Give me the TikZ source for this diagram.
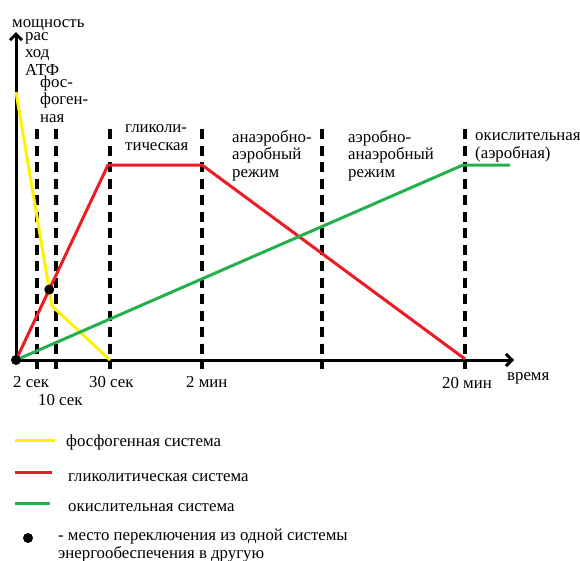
\documentclass[tikz,border=0pt]{standalone}
\usepackage{fontspec}
\setmainfont{Liberation Serif}
\usetikzlibrary{arrows.meta,intersections}
\definecolor{phosyellow}{RGB}{255,242,0}
\definecolor{glycred}{RGB}{237,28,36}
\definecolor{oxgreen}{RGB}{34,177,76}

\begin{document}
\begin{tikzpicture}[x=1pt,y=-1pt,
        axis/.style={line width=3pt,-{Straight Barb[length=6pt,width=12pt]}},
        border/.style={line width=3.4pt,dash pattern=on 10pt off 6.5pt},
        curve/.style={line width=3pt,line join=round},
        switch/.style={circle,fill=black,inner sep=0pt,minimum size=10pt},
        lbl/.style={font=\fontsize{16.8}{17.4}\selectfont,inner sep=0pt,align=left,anchor=base west}]
        \useasboundingbox (0,0) rectangle (580,560);
        \clip (0,0) rectangle (580,560);
        % borders between phases
        \foreach \n/\x in {a/37,b/56,c/110,d/202,e/322,f/465}
            \draw[border] (\x,129) coordinate (\n top) -- (\x,369) coordinate (\n bot);
        % axes
        \coordinate (O) at (16,360);
        \coordinate (ytip) at (16,32);
        \coordinate (xtip) at (514,360);
        \draw[axis] (O) -- (ytip);
        \draw[axis] (O) -- (xtip);
        % systems
        \coordinate (y1) at (16,92);
        \coordinate (y2) at (52,306);
        \coordinate (y3) at (110,360);
        \coordinate (r1) at (108,165);
        \coordinate (r2) at (202,165);
        \coordinate (r3) at (465,359);
        \coordinate (g1) at (463,165);
        \coordinate (g2) at (510,165);
        \draw[curve,phosyellow,name path=phos] (y1) -- (y2) -- (y3);
        \draw[curve,glycred,name path=glyc] (O) -- (r1) -- (r2) -- (r3);
        \draw[curve,oxgreen,name path=oxid] (O) -- (g1) -- (g2);
        \path[name intersections={of=phos and glyc,by=s1}];
        \path[name intersections={of=glyc and oxid,by=s2}];
        \node[switch] (sw1) at (s1) {};
        \node[switch] (sw2) at (s2) {};
        \node[switch,minimum size=8pt] (sw0) at (O) {};
        % labels (base = last line)
        \node[lbl] (power) at (12,27) {мощность};
        \node[lbl] (atp) at (25,75) {рас\\ход\\АТФ};
        \node[lbl] (phase1) at (40,122) {фос-\\фоген-\\ная};
        \node[lbl] (phase2) at (125,150) {гликоли-\\тическая};
        \node[lbl] (phase3) at (232,177) {анаэробно-\\аэробный\\режим};
        \node[lbl] (phase4) at (348,177) {аэробно-\\анаэробный\\режим};
        \node[lbl] (phase5) at (475,158) {окислительная\\(аэробная)};
        \node[lbl] (t1) at (13,387) {2 сек};
        \node[lbl] (t2) at (38,405) {10 сек};
        \node[lbl] (t3) at (89,387) {30 сек};
        \node[lbl] (t4) at (186,387) {2 мин};
        \node[lbl] (t5) at (442,388) {20 мин};
        \node[lbl] (time) at (507,380) {время};
        % legend
        \coordinate (ly1) at (15,440);
        \coordinate (ly2) at (55,440);
        \coordinate (lr1) at (15,472);
        \coordinate (lr2) at (52,472);
        \coordinate (lg1) at (15,503);
        \coordinate (lg2) at (50,503);
        \draw[curve,phosyellow] (ly1) -- (ly2);
        \draw[curve,glycred] (lr1) -- (lr2);
        \draw[curve,oxgreen] (lg1) -- (lg2);
        \node[lbl] (leg1) at (66,446) {фосфогенная система};
        \node[lbl] (leg2) at (68,481) {гликолитическая система};
        \node[lbl] (leg3) at (68,511) {окислительная система};
        \node[switch] (legdot) at (28,538) {};
        \node[lbl] (leg4) at (58,558) {- место переключения из одной системы\\энергообеспечения в другую};
    \end{tikzpicture}
\end{document}
